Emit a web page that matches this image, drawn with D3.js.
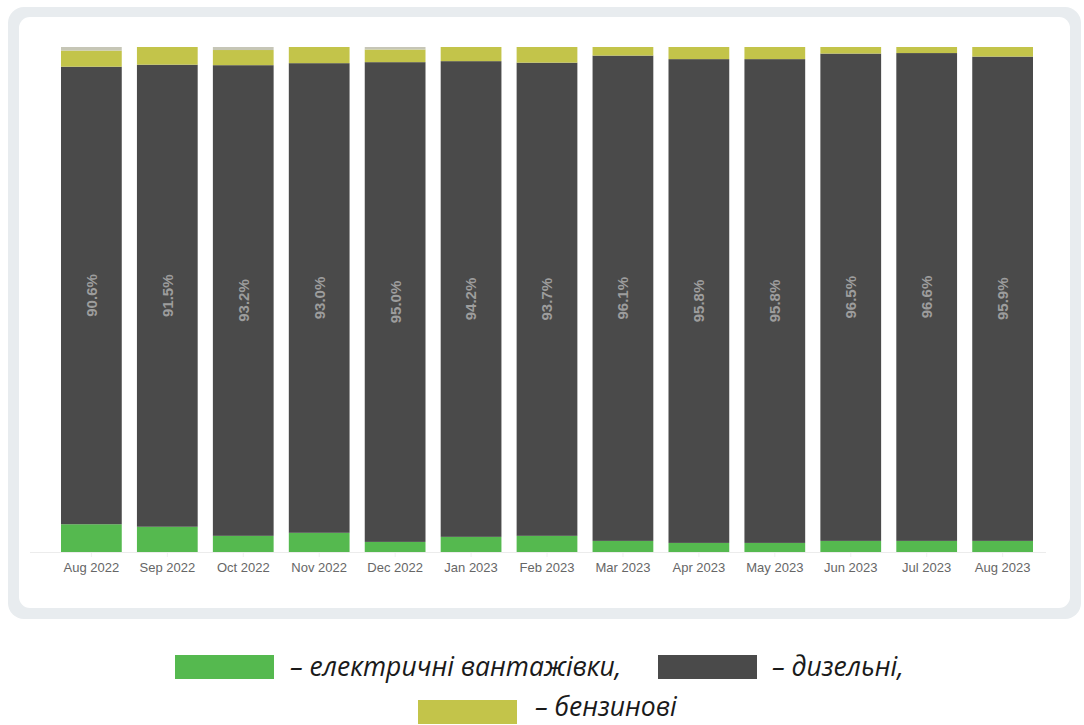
<!DOCTYPE html>
<html>
<head>
<meta charset="utf-8">
<script src="https://cdn.jsdelivr.net/npm/d3@7"></script>
<style>
  html, body { margin: 0; padding: 0; background: #fff; }
  svg { display: block; }
</style>
</head>
<body>
<svg id="chart" width="1084" height="725"></svg>
<script>
// Monthly share of new truck registrations by fuel type, %
const months = ["Aug 2022", "Sep 2022", "Oct 2022", "Nov 2022", "Dec 2022", "Jan 2023",
  "Feb 2023", "Mar 2023", "Apr 2023", "May 2023", "Jun 2023", "Jul 2023", "Aug 2023"];
const electric = [5.5, 5.0, 3.2, 3.8, 2.0, 3.0, 3.2, 2.2, 1.8, 1.8, 2.2, 2.2, 2.2];
const diesel   = [90.6, 91.5, 93.2, 93.0, 95.0, 94.2, 93.7, 96.1, 95.8, 95.8, 96.5, 96.6, 95.9];
const petrol   = [3.2, 3.5, 3.0, 3.2, 2.5, 2.8, 3.1, 1.7, 2.4, 2.4, 1.3, 1.2, 1.9];
const other    = [0.7, 0.0, 0.6, 0.0, 0.5, 0.0, 0.0, 0.0, 0.0, 0.0, 0.0, 0.0, 0.0];

const seriesKeys = ["electric", "diesel", "petrol", "other"];
const seriesColors = ["#55b94f", "#4a4a4a", "#c3c44a", "#c6c6b6"];
const legendItems = [
  { key: "electric", text: "– електричні вантажівки," },
  { key: "diesel", text: "– дизельні," },
  { key: "petrol", text: "– бензинові" }
];

const rows = months.map((m, i) => ({
  month: m, electric: electric[i], diesel: diesel[i], petrol: petrol[i], other: other[i]
}));

const svg = d3.select("#chart");
const color = d3.scaleOrdinal(seriesKeys, seriesColors);

// Card background
svg.append("rect").attr("x", 8).attr("y", 7).attr("width", 1073).attr("height", 612)
  .attr("rx", 16).attr("fill", "#e8ecef");
svg.append("rect").attr("x", 19).attr("y", 17).attr("width", 1051).attr("height", 591)
  .attr("rx", 11).attr("fill", "#ffffff");

const x = d3.scaleBand().domain(months).range([61, 1033]).paddingInner(0.2).paddingOuter(0);
const y = d3.scaleLinear().domain([0, 100]).range([552, 47]);

// Baseline
svg.append("line").attr("x1", 30).attr("x2", 1046)
  .attr("y1", y(0) + 0.5).attr("y2", y(0) + 0.5)
  .attr("stroke", "#ececec").attr("stroke-width", 1);

// X axis
const xAxis = svg.append("g").attr("transform", `translate(0,${y(0) + 1})`)
  .call(d3.axisBottom(x).tickSize(4).tickPadding(6));
xAxis.select(".domain").remove();
xAxis.selectAll(".tick line").attr("stroke", "#f0f0f0");
xAxis.selectAll(".tick text")
  .attr("font-family", "'Liberation Sans', Arial, Helvetica, sans-serif")
  .attr("font-size", 13).attr("fill", "#666");

// Stacked bars
const stack = d3.stack().keys(seriesKeys)(rows);
svg.append("g").selectAll("g").data(stack).join("g")
  .attr("fill", d => color(d.key))
  .selectAll("rect").data(d => d).join("rect")
  .attr("x", d => x(d.data.month))
  .attr("width", x.bandwidth())
  .attr("y", d => y(d[1]))
  .attr("height", d => Math.max(0, y(d[0]) - y(d[1])));

// Diesel share labels
const dieselLayer = stack.find(s => s.key === "diesel");
svg.append("g").selectAll("text").data(dieselLayer).join("text")
  .attr("transform", d => `translate(${x(d.data.month) + x.bandwidth() / 2},${(y(d[0]) + y(d[1])) / 2}) rotate(-90)`)
  .attr("text-anchor", "middle").attr("dy", "0.36em")
  .attr("font-family", "'Liberation Sans', Arial, Helvetica, sans-serif")
  .attr("font-weight", "bold").attr("font-size", 15).attr("fill", "#9d9d9d")
  .text(d => d.data.diesel.toFixed(1) + "%");

// Legend
const legendFont = "'Open Sans', 'Noto Sans', sans-serif";
const legendPos = [
  { rx: 175, tx: 290, y: 655, ty: 676 },
  { rx: 658, tx: 772, y: 655, ty: 676 },
  { rx: 418, tx: 535, y: 700, ty: 716 }
];
const legend = svg.append("g").selectAll("g").data(legendItems).join("g");
legend.append("rect")
  .attr("x", (d, i) => legendPos[i].rx).attr("y", (d, i) => legendPos[i].y)
  .attr("width", 99).attr("height", 24)
  .attr("fill", d => color(d.key));
legend.append("text")
  .attr("x", (d, i) => legendPos[i].tx).attr("y", (d, i) => legendPos[i].ty)
  .attr("font-family", legendFont).attr("font-style", "italic")
  .attr("font-size", 26.5).attr("fill", "#1a1a1a")
  .text(d => d.text);
</script>
</body>
</html>
